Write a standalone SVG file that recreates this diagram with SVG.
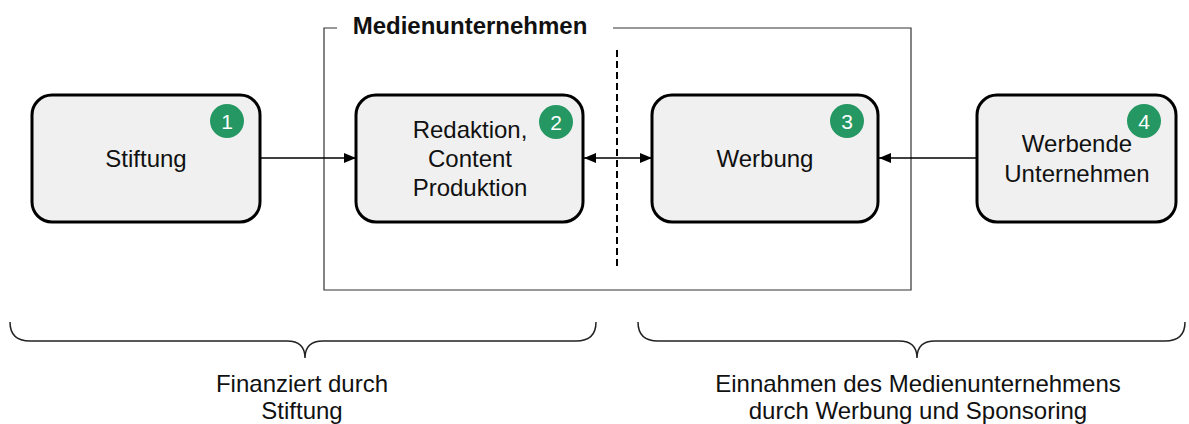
<svg xmlns="http://www.w3.org/2000/svg" width="1189" height="424" viewBox="0 0 1189 424">
<style>
.box{fill:#f0f0f0;stroke:#000;stroke-width:3}
.t{font-family:"Liberation Sans",Arial,sans-serif;font-size:24px;fill:#111;text-anchor:middle}
.b{font-weight:bold}
.badge{fill:#249762}
.bn{font-family:"Liberation Sans",Arial,sans-serif;font-size:21px;fill:#fff;text-anchor:middle}
.conn{stroke:#000;stroke-width:1.6;fill:none}
.frame{stroke:#333;stroke-width:1.2;fill:none}
.brace{stroke:#222;stroke-width:1.5;fill:none}
</style>
<defs>
<marker id="ah" viewBox="0 0 12 10" refX="12" refY="5" markerWidth="12" markerHeight="10" markerUnits="userSpaceOnUse" orient="auto-start-reverse">
<path d="M0,0 L12,5 L0,10 Z" fill="#000"/>
</marker>
</defs>
<g id="frame">
<path class="frame" d="M337,28 L324,28 L324,290 L911,290 L911,28 L613,28"/>
<text class="t b" x="470" y="34">Medienunternehmen</text>
<line x1="617" y1="50" x2="617" y2="270" stroke="#000" stroke-width="2" stroke-dasharray="7,4"/>
</g>
<g id="connectors">
<line class="conn" x1="260" y1="158" x2="356" y2="158" marker-end="url(#ah)"/>
<line class="conn" x1="584" y1="158" x2="652" y2="158" marker-start="url(#ah)" marker-end="url(#ah)"/>
<line class="conn" x1="977" y1="158" x2="879" y2="158" marker-end="url(#ah)"/>
</g>
<g id="node1">
<rect class="box" x="32" y="95" width="228" height="127" rx="20"/>
<text class="t" x="146" y="167">Stiftung</text>
<circle class="badge" cx="227" cy="121" r="17"/>
<text class="bn" x="227" y="129">1</text>
</g>
<g id="node2">
<rect class="box" x="356" y="95" width="227" height="127" rx="20"/>
<text class="t" x="470" y="138">Redaktion,</text>
<text class="t" x="470" y="167">Content</text>
<text class="t" x="470" y="196">Produktion</text>
<circle class="badge" cx="556" cy="122" r="17"/>
<text class="bn" x="556" y="130">2</text>
</g>
<g id="node3">
<rect class="box" x="652" y="95" width="226" height="127" rx="20"/>
<text class="t" x="765" y="167">Werbung</text>
<circle class="badge" cx="847" cy="121" r="17"/>
<text class="bn" x="847" y="129">3</text>
</g>
<g id="node4">
<rect class="box" x="977" y="95" width="199" height="127" rx="20"/>
<text class="t" x="1077" y="152">Werbende</text>
<text class="t" x="1077" y="182">Unternehmen</text>
<circle class="badge" cx="1144" cy="121" r="17"/>
<text class="bn" x="1144" y="129">4</text>
</g>
<g id="brace-left">
<path class="brace" d="M10,322 Q10,341 30,341 L287,341 Q305,341 305,358 Q305,341 323,341 L576,341 Q596,341 596,322"/>
<text class="t" x="302" y="392">Finanziert durch</text>
<text class="t" x="302" y="419">Stiftung</text>
</g>
<g id="brace-right">
<path class="brace" d="M638,322 Q638,341 658,341 L899,341 Q917,341 917,358 Q917,341 935,341 L1165,341 Q1185,341 1185,322"/>
<text class="t" x="918" y="392">Einnahmen des Medienunternehmens</text>
<text class="t" x="918" y="419">durch Werbung und Sponsoring</text>
</g>
</svg>
